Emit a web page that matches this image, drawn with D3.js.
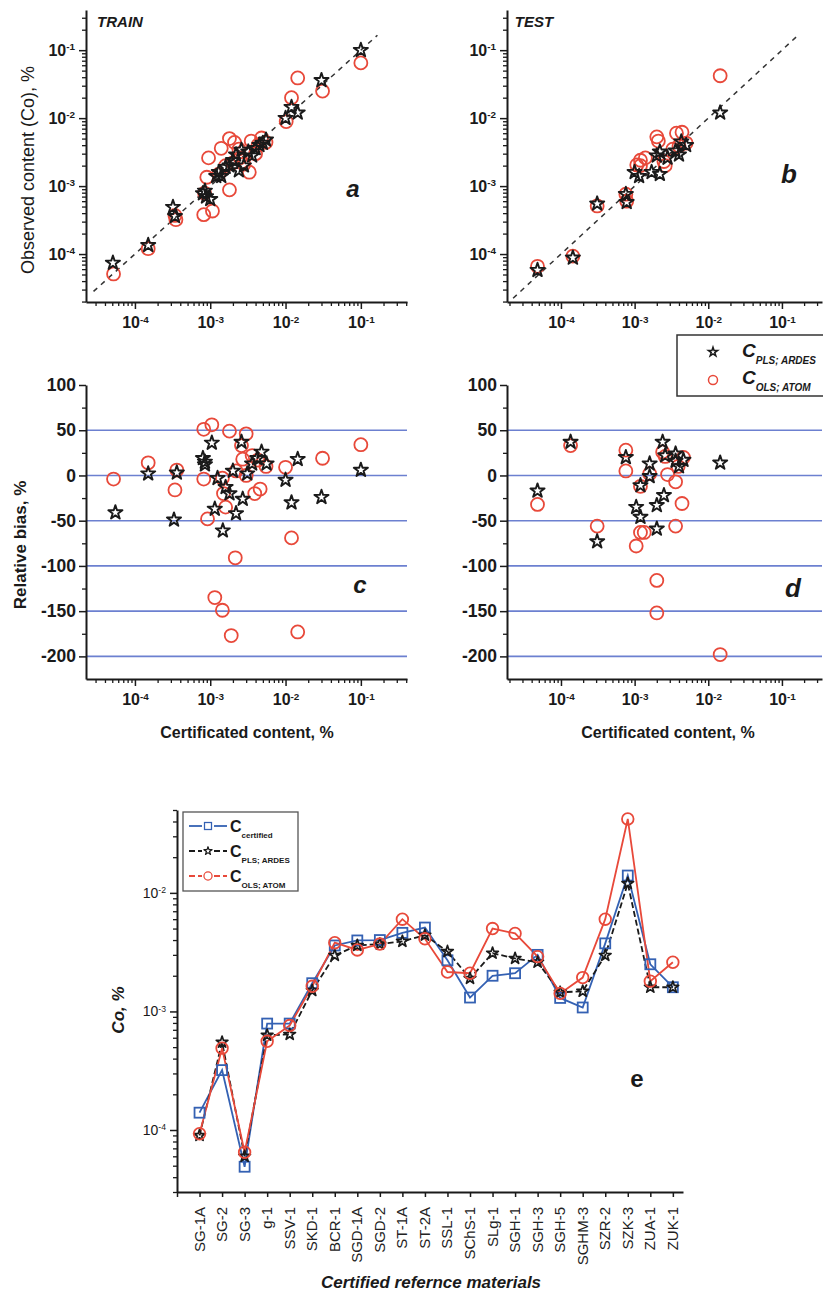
<!DOCTYPE html>
<html>
<head>
<meta charset="utf-8">
<script src="https://cdn.jsdelivr.net/npm/d3@7"></script>
<style>
  body { margin: 0; background: #fff; }
  svg { display: block; font-family: "Liberation Sans", Arial, sans-serif; }
</style>
</head>
<body>
<svg id="fig" width="823" height="1294"></svg>
<script>
// ---- data ----
// panel a: [certified, observed]
const trainPLS = [[5.1e-5,7.4e-5],[1.5e-4,1.35e-4],[3.2e-4,4.9e-4],[3.4e-4,3.6e-4],[8.0e-4,7.8e-4],[8.8e-4,7.0e-4],
  [1.0e-3,6.4e-4],[8.5e-4,8.5e-4],[1.2e-3,1.4e-3],[1.3e-3,1.6e-3],[1.4e-3,1.4e-3],[1.6e-3,1.9e-3],[1.8e-3,2.0e-3],
  [2.0e-3,2.4e-3],[2.2e-3,2.9e-3],[2.4e-3,1.7e-3],[2.6e-3,3.4e-3],[2.8e-3,2.0e-3],[3.2e-3,3.2e-3],[3.6e-3,2.8e-3],
  [4.0e-3,3.6e-3],[4.5e-3,4.0e-3],[5.0e-3,4.3e-3],[5.5e-3,4.8e-3],[1.0e-2,1.0e-2],[1.2e-2,1.45e-2],[1.45e-2,1.2e-2],
  [3.0e-2,3.6e-2],[0.1,0.1]];
const trainOLS = [[5.2e-5,5.1e-5],[1.5e-4,1.2e-4],[3.4e-4,3.7e-4],[3.5e-4,3.2e-4],[8.2e-4,3.8e-4],[1.07e-3,4.3e-4],
  [8.4e-4,7.9e-4],[9.0e-4,1.35e-3],[1.8e-3,8.8e-4],[9.5e-4,2.6e-3],[1.4e-3,3.6e-3],[1.8e-3,5.0e-3],[2.1e-3,4.4e-3],
  [2.4e-3,3.5e-3],[1.3e-3,1.5e-3],[1.6e-3,2.0e-3],[2.0e-3,2.2e-3],[2.5e-3,2.6e-3],[3.3e-3,1.6e-3],[2.8e-3,2.1e-3],
  [3.5e-3,4.6e-3],[4.0e-3,3.0e-3],[4.3e-3,4.0e-3],[4.8e-3,5.1e-3],[5.5e-3,4.4e-3],[1.02e-2,8.9e-3],[1.2e-2,2.0e-2],
  [1.45e-2,3.9e-2],[3.1e-2,2.5e-2],[0.1,6.5e-2]];
// panel b
const testPLS = [[4.8e-5,5.8e-5],[1.45e-4,8.8e-5],[3.1e-4,5.5e-4],[7.6e-4,7.6e-4],[7.8e-4,5.8e-4],[1.0e-3,1.6e-3],
  [1.15e-3,1.4e-3],[1.7e-3,1.6e-3],[2.2e-3,1.5e-3],[2.0e-3,2.8e-3],[2.2e-3,3.2e-3],[2.8e-3,2.6e-3],[3.6e-3,3.3e-3],
  [4.0e-3,2.9e-3],[4.3e-3,4.5e-3],[5.0e-3,4.0e-3],[1.45e-2,1.2e-2]];
const testOLS = [[4.8e-5,6.6e-5],[1.45e-4,9.3e-5],[3.1e-4,5.1e-4],[7.6e-4,7.6e-4],[7.8e-4,6.0e-4],[1.07e-3,2.05e-3],
  [1.2e-3,2.0e-3],[1.2e-3,2.4e-3],[1.4e-3,2.6e-3],[2.0e-3,5.3e-3],[2.1e-3,4.6e-3],[2.6e-3,2.0e-3],[2.5e-3,2.3e-3],
  [3.7e-3,6.0e-3],[4.4e-3,6.2e-3],[5.0e-3,4.3e-3],[4.0e-3,3.9e-3],[3.3e-3,3.5e-3],[1.45e-2,4.2e-2]];
// panel c: [certified, relative bias %]
const biasTrainPLS = [[5.5e-5,-41],[1.5e-4,2],[3.3e-4,-49],[3.6e-4,3],[8e-4,19],[8.5e-4,15],[8.5e-4,12],[1.05e-3,36],
  [1.15e-3,-37],[1.47e-3,-61],[1.25e-3,-3],[1.6e-3,-13],[1.8e-3,-20],[2.2e-3,-42],[2.7e-3,-26],[2.6e-3,37],[3.1e-3,2],
  [3.6e-3,13],[4.2e-3,19],[4.8e-3,26],[5.6e-3,13],[2.0e-3,5],[1.0e-2,-5],[1.2e-2,-30],[1.45e-2,18],[3e-2,-24],[0.1,6]];
const biasTrainOLS = [[5.2e-5,-4],[1.5e-4,14],[3.4e-4,-16],[3.6e-4,6],[8.2e-4,51],[1.05e-3,56],[8.2e-4,-4],[9.2e-4,-48],
  [1.15e-3,-135],[1.45e-3,-149],[1.9e-3,-177],[2.15e-3,-91],[1.8e-3,49],[1.6e-3,-35],[1.45e-3,-3],[1.5e-3,-20],
  [3.0e-3,46],[2.6e-3,33],[2.7e-3,18],[3.0e-3,0],[2.2e-3,5],[3.9e-3,-20],[4.6e-3,-15],[3.6e-3,22],[4.3e-3,17],
  [5.5e-3,10],[1e-2,9],[1.2e-2,-69],[1.45e-2,-173],[3.1e-2,19],[0.1,34]];
// panel d
const biasTestPLS = [[4.8e-5,-17],[1.35e-4,37],[3.1e-4,-73],[7.6e-4,20],[1.05e-3,-35],[1.2e-3,-46],[1.2e-3,-11],
  [1.6e-3,13],[1.6e-3,-1],[2.0e-3,-33],[2.0e-3,-59],[2.5e-3,-22],[2.4e-3,37],[2.6e-3,22],[3.6e-3,24],[3.6e-3,16],
  [4.0e-3,10],[4.6e-3,17],[1.45e-2,14]];
const biasTestOLS = [[4.8e-5,-32],[1.35e-4,33],[3.1e-4,-56],[7.6e-4,28],[7.6e-4,5],[1.05e-3,-78],[1.2e-3,-63],
  [1.35e-3,-63],[1.2e-3,-12],[1.6e-3,2],[2.0e-3,-116],[2.0e-3,-152],[2.4e-3,26],[2.6e-3,21],[2.8e-3,1],[3.6e-3,-7],
  [3.6e-3,-56],[4.4e-3,-31],[3.9e-3,10],[4.6e-3,20],[1.45e-2,-198]];
// panel e
const crm = ["SG-1A","SG-2","SG-3","g-1","SSV-1","SKD-1","BCR-1","SGD-1A","SGD-2","ST-1A","ST-2A","SSL-1",
  "SChS-1","SLg-1","SGH-1","SGH-3","SGH-5","SGHM-3","SZR-2","SZK-3","ZUA-1","ZUK-1"];
const cCertified = [1.4e-4,3.2e-4,4.9e-5,7.9e-4,7.9e-4,1.73e-3,3.6e-3,3.97e-3,4.0e-3,4.6e-3,5.1e-3,2.7e-3,
  1.31e-3,2.0e-3,2.1e-3,3.0e-3,1.3e-3,1.08e-3,3.75e-3,1.4e-2,2.5e-3,1.6e-3];
const cPLS = [9e-5,5.5e-4,6e-5,6.3e-4,6.4e-4,1.5e-3,2.97e-3,3.6e-3,3.7e-3,3.9e-3,4.4e-3,3.2e-3,
  1.9e-3,3.1e-3,2.8e-3,2.6e-3,1.45e-3,1.48e-3,2.97e-3,1.2e-2,1.6e-3,1.6e-3];
const cOLS = [9.3e-5,4.9e-4,6.5e-5,5.6e-4,7.6e-4,1.63e-3,3.8e-3,3.3e-3,3.7e-3,6.0e-3,4.1e-3,2.15e-3,
  2.1e-3,5.0e-3,4.55e-3,2.9e-3,1.42e-3,1.93e-3,6.0e-3,4.2e-2,1.8e-3,2.6e-3];
const biasMajor = [-200,-150,-100,-50,0,50,100];
const biasMinor = [-175,-125,-75,-25,25,75];

const RED = "#e8493a", BLUE = "#3461b3", GRID = "#6c80d0", INK = "#1a1a1a";
const svg = d3.select("#fig");

// ---- helpers ----
const isDecade = v => Math.abs(Math.log10(v) - Math.round(Math.log10(v))) < 1e-9;
function logTicks(dom) {
  const out = [];
  for (let k = -6; k <= 1; k++)
    for (let m = 1; m <= 9; m++) {
      const v = m * Math.pow(10, k);
      if (v >= dom[0] * 0.9999 && v <= dom[1] * 1.0001) out.push(v);
    }
  return out;
}
function supText(sel, size) {
  sel.each(function(d) {
    const t = d3.select(this).text(null);
    t.append("tspan").text("10");
    t.append("tspan").attr("dy", "-0.55em").attr("font-size", size * 0.62).text(Math.round(Math.log10(d)));
  });
}
function styleAxis(g, size, weight) {
  g.attr("font-family", null).attr("font-size", size).attr("font-weight", weight);
  g.select(".domain").attr("stroke", INK).attr("stroke-width", 2);
  g.selectAll(".tick line").attr("stroke", INK).attr("stroke-width", 1.5);
  g.selectAll("text").attr("fill", INK);
}
function logAxis(orient, scale, pos, size, weight) {
  const all = logTicks(scale.domain());
  const mk = orient === "bottom" ? d3.axisBottom : d3.axisLeft;
  const tr = orient === "bottom" ? `translate(0,${pos})` : `translate(${pos},0)`;
  const gMinor = svg.append("g").attr("transform", tr)
    .call(mk(scale).tickValues(all.filter(v => !isDecade(v))).tickSize(4).tickFormat(""));
  gMinor.select(".domain").remove();
  gMinor.selectAll(".tick line").attr("stroke", INK).attr("stroke-width", 1.3);
  const g = svg.append("g").attr("transform", tr)
    .call(mk(scale).tickValues(all.filter(isDecade)).tickSize(7).tickSizeOuter(0)
      .tickPadding(orient === "bottom" ? 8 : 4));
  styleAxis(g, size, weight);
  supText(g.selectAll(".tick text"), size);
  return g;
}
function starPath(size) { return d3.symbol(d3.symbolStar, size)(); }

function scatter(pts, x, y, kind, sz) {
  const g = svg.append("g");
  if (kind === "circle") {
    g.selectAll("circle").data(pts).join("circle")
      .attr("cx", d => x(d[0])).attr("cy", d => y(d[1])).attr("r", sz)
      .attr("fill", "none").attr("stroke", RED).attr("stroke-width", 1.8);
  } else {
    g.selectAll("path").data(pts).join("path")
      .attr("transform", d => `translate(${x(d[0])},${y(d[1])})`)
      .attr("d", starPath(sz))
      .attr("fill", "none").attr("stroke", INK).attr("stroke-width", 1.9).attr("stroke-linejoin", "round");
  }
}
function label(x, y, txt, size, weight, style, rot) {
  const t = svg.append("text").attr("x", x).attr("y", y).attr("font-size", size)
    .attr("font-weight", weight).attr("font-style", style || "normal").attr("fill", INK)
    .attr("text-anchor", "middle").text(txt);
  if (rot) t.attr("transform", `rotate(-90,${x},${y})`);
  return t;
}

// ---- scales ----
const xA = d3.scaleLog().domain([2.24e-5, 0.41]).range([86, 407]);
const xB = d3.scaleLog().domain([1.85e-5, 0.35]).range([507, 822]);
const yAB = d3.scaleLog().domain([1.97e-5, 0.39]).range([302, 10]);
const yCD = d3.scaleLinear().domain([-225, 100]).range([679, 385]);

// ---- panels a & b ----
[[xA, trainPLS, trainOLS, [10 ** -4.55, 10 ** -0.78]], [xB, testPLS, testOLS, [10 ** -4.65, 10 ** -0.76]]]
  .forEach(([x, pls, ols, diag]) => {
    svg.append("line").attr("x1", x(diag[0])).attr("y1", yAB(diag[0]))
      .attr("x2", x(diag[1])).attr("y2", yAB(diag[1]))
      .attr("stroke", "#333").attr("stroke-width", 1.5).attr("stroke-dasharray", "5,5");
    logAxis("bottom", x, 302, 16, "bold");
    logAxis("left", yAB, x.range()[0], 16, "bold");
    scatter(ols, x, yAB, "circle", 6.5);
    scatter(pls, x, yAB, "star", 62);
  });

label(120, 27, "TRAIN", 15, "bold", "italic");
label(534, 27, "TEST", 15, "bold", "italic");
label(353, 197, "a", 24, "bold", "italic");
label(789, 183, "b", 26, "bold", "italic");
label(34, 170, "Observed content (Co), %", 18, "normal", "normal", true);

// ---- panels c & d ----
[[xA, biasTrainPLS, biasTrainOLS], [xB, biasTestPLS, biasTestOLS]].forEach(([x, pls, ols]) => {
  const x0 = x.range()[0], x1 = x.range()[1];
  svg.append("g").selectAll("line").data(biasMajor.filter(v => v < 100)).join("line")
    .attr("x1", x0 + 1).attr("x2", x1).attr("y1", d => yCD(d)).attr("y2", d => yCD(d))
    .attr("stroke", GRID).attr("stroke-width", 1.6);
  logAxis("bottom", x, 679, 16, "bold");
  const gm = svg.append("g").attr("transform", `translate(${x0},0)`)
    .call(d3.axisLeft(yCD).tickValues(biasMinor).tickSize(4).tickFormat(""));
  gm.select(".domain").remove();
  gm.selectAll(".tick line").attr("stroke", INK).attr("stroke-width", 1.3);
  const g = svg.append("g").attr("transform", `translate(${x0},0)`)
    .call(d3.axisLeft(yCD).tickValues(biasMajor).tickSize(7).tickSizeOuter(0).tickPadding(3).tickFormat(d => String(d)));
  styleAxis(g, 17.5, "bold");
  scatter(ols, x, yCD, "circle", 6.5);
  scatter(pls, x, yCD, "star", 62);
});

label(360, 593, "c", 24, "bold", "italic");
label(793, 597, "d", 26, "bold", "italic");
label(26, 545, "Relative bias, %", 17, "bold", "normal", true);
label(247, 738, "Certificated content, %", 16, "bold");
label(668, 738, "Certificated content, %", 16, "bold");

// legend for b/c/d
svg.append("rect").attr("x", 677).attr("y", 335).attr("width", 160).attr("height", 61)
  .attr("fill", "#fff").attr("stroke", "#333").attr("stroke-width", 1.5);
svg.append("path").attr("transform", "translate(713,352)").attr("d", starPath(26))
  .attr("fill", "none").attr("stroke", INK).attr("stroke-width", 1.5);
svg.append("circle").attr("cx", 713).attr("cy", 380).attr("r", 4.5)
  .attr("fill", "none").attr("stroke", RED).attr("stroke-width", 1.5);
[["PLS; ARDES", 357], ["OLS; ATOM", 384]].forEach(([sub, by]) => {
  const t = svg.append("text").attr("x", 742).attr("y", by).attr("font-weight", "bold")
    .attr("font-style", "italic").attr("fill", INK);
  t.append("tspan").attr("font-size", 19).text("C");
  t.append("tspan").attr("font-size", 10).attr("dy", 7).text(sub);
});

// ---- panel e ----
const xE = d3.scaleLinear().domain([0, 22.45]).range([177, 683]);
const yE = d3.scaleLog().domain([3e-5, 0.05]).range([1192, 810]);

const gex = svg.append("g").attr("transform", "translate(0,1192)")
  .call(d3.axisBottom(xE).tickValues(d3.range(0, 23)).tickSize(5).tickSizeOuter(0).tickFormat(""));
styleAxis(gex, 15, "normal");
svg.append("g").selectAll("text").data(crm).join("text")
  .attr("transform", (d, i) => `translate(${xE(i + 1) + 5},1207) rotate(-90)`)
  .attr("text-anchor", "end").attr("font-size", 15).attr("fill", "#222").text(d => d);
logAxis("left", yE, 177, 14, "normal");

const lineE = d3.line().x((d, i) => xE(i + 1)).y(d => yE(d));
const seriesE = [
  { v: cCertified, color: BLUE, dash: null, mark: "square", name: "certified" },
  { v: cPLS, color: INK, dash: "6,3", mark: "star", name: "PLS; ARDES" },
  { v: cOLS, color: RED, dash: null, mark: "circle", name: "OLS; ATOM" }
];
seriesE.forEach(s => {
  svg.append("path").datum(s.v).attr("d", lineE).attr("fill", "none")
    .attr("stroke", s.color).attr("stroke-width", 1.8).attr("stroke-dasharray", s.dash);
});
function markE(g, kind, color) {
  if (kind === "square") return g.append("rect").attr("x", -5).attr("y", -5).attr("width", 10).attr("height", 10)
    .attr("fill", "none").attr("stroke", color).attr("stroke-width", 1.8);
  if (kind === "circle") return g.append("circle").attr("r", 5.8)
    .attr("fill", "none").attr("stroke", color).attr("stroke-width", 1.8);
  return g.append("path").attr("d", starPath(42)).attr("fill", "none")
    .attr("stroke", color).attr("stroke-width", 1.7).attr("stroke-linejoin", "round");
}
seriesE.forEach(s => {
  svg.append("g").selectAll("g").data(s.v).join("g")
    .attr("transform", (d, i) => `translate(${xE(i + 1)},${yE(d)})`)
    .each(function() { markE(d3.select(this), s.mark, s.color); });
});

// legend e
svg.append("rect").attr("x", 183).attr("y", 812).attr("width", 115).attr("height", 79)
  .attr("fill", "#fff").attr("stroke", "#555").attr("stroke-width", 1.3);
seriesE.forEach((s, i) => {
  const cy = 826 + i * 25;
  const dash = i === 0 ? null : "6,3";
  svg.append("line").attr("x1", 189).attr("x2", 202).attr("y1", cy).attr("y2", cy)
    .attr("stroke", s.color).attr("stroke-width", 1.8).attr("stroke-dasharray", dash);
  svg.append("line").attr("x1", 214).attr("x2", 227).attr("y1", cy).attr("y2", cy)
    .attr("stroke", s.color).attr("stroke-width", 1.8).attr("stroke-dasharray", dash);
  const g = svg.append("g").attr("transform", `translate(208,${cy}) scale(0.7)`);
  markE(g, s.mark, s.color);
  const t = svg.append("text").attr("x", 230).attr("y", cy + 6).attr("font-weight", "bold").attr("fill", INK);
  t.append("tspan").attr("font-size", 16).text("C");
  t.append("tspan").attr("font-size", 8).attr("dy", 6).text(s.name);
});

label(637, 1087, "e", 24, "bold");
label(124, 1010, "Co, %", 17, "bold", "italic", true);
label(431, 1288, "Certified refernce materials", 17, "bold", "italic");
</script>
</body>
</html>
